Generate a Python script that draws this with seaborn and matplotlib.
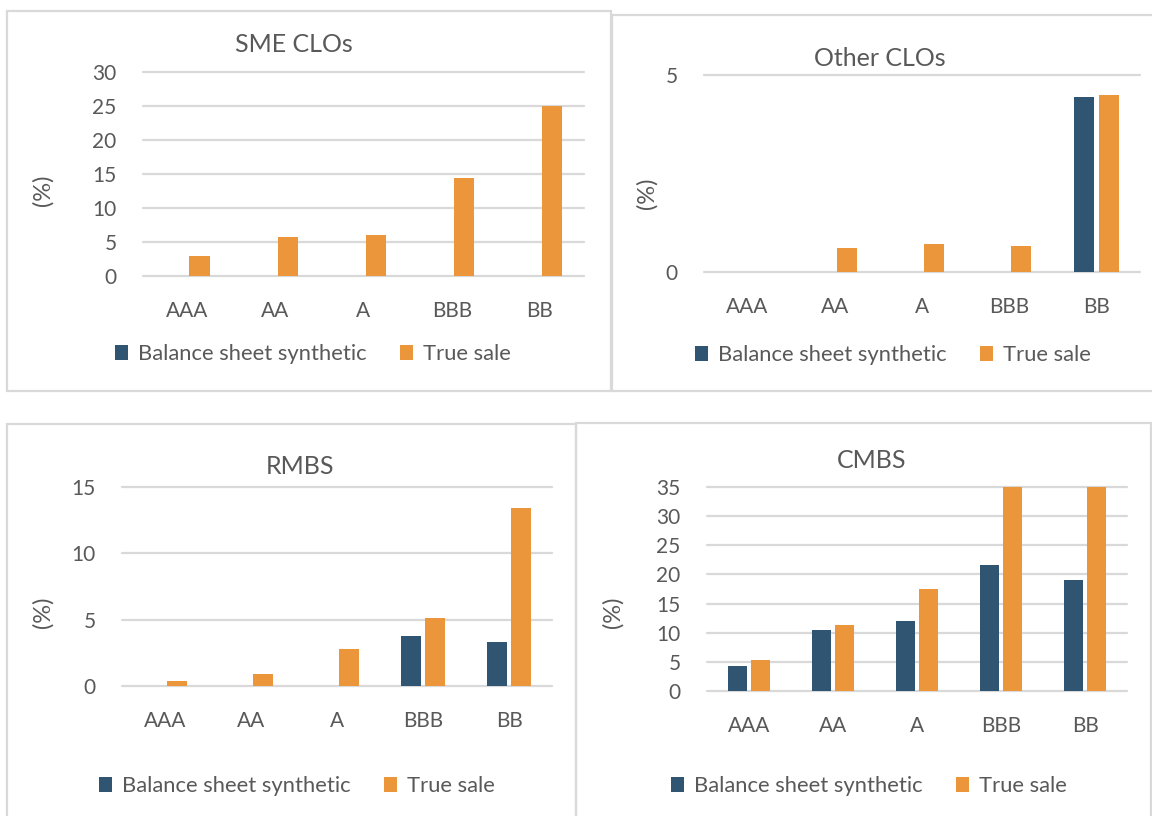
import matplotlib
matplotlib.use("Agg")
import matplotlib.pyplot as plt
from matplotlib.patches import Rectangle, Patch
import seaborn as sns
import pandas as pd

# ---------------- data ----------------
ratings = ["AAA", "AA", "A", "BBB", "BB"]
series = ["Balance sheet synthetic", "True sale"]

sme_synthetic = [0, 0, 0, 0, 0]
sme_true_sale = [2.9, 5.7, 6.0, 14.4, 25.0]

other_synthetic = [0, 0, 0, 0, 4.45]
other_true_sale = [0, 0.62, 0.72, 0.67, 4.5]

rmbs_synthetic = [0, 0, 0, 3.8, 3.3]
rmbs_true_sale = [0.4, 0.9, 2.8, 5.1, 13.4]

cmbs_synthetic = [4.3, 10.5, 12.0, 21.6, 19.0]
cmbs_true_sale = [5.4, 11.3, 17.5, 35.0, 35.0]

titles = ["SME CLOs", "Other CLOs", "RMBS", "CMBS"]
y_max = [30, 5, 15, 35]
y_step = [5, 5, 5, 5]

# ---------------- style ----------------
sns.set_theme(style="white")
plt.rcParams["font.family"] = ["Lato", "DejaVu Sans"]
TXT = "#595959"
GRID = "#D9D9D9"
BLUE = "#2F5573"
ORANGE = "#EC963C"

W, H = 1152, 816
fig = plt.figure(figsize=(W / 100, H / 100), dpi=100)


def fx(x):
    return x / W


def fy(y):
    return 1 - y / H


def add_axes_px(x0, y0, x1, y1):
    return fig.add_axes([fx(x0), fy(y1), (x1 - x0) / W, (y1 - y0) / H])


# panel borders (pixel coords: x0, y0, x1, y1)
borders = [(7, 11, 611, 391), (612, 15, 1160, 391), (7, 424, 576, 830), (576, 423, 1151, 830)]
for (x0, y0, x1, y1) in borders:
    fig.add_artist(Rectangle((fx(x0), fy(y1)), (x1 - x0) / W, (y1 - y0) / H,
                             transform=fig.transFigure, fill=False,
                             ec=GRID, lw=1.6, zorder=0))

axes_px = [(143, 72, 584, 276), (704, 75, 1140, 272), (122, 487, 552, 686), (707, 487, 1127, 691)]
title_pos = [(294, 45), (880, 58), (300, 467), (872, 461)]
ylabel_pos = [(43, 190), (647, 193), (43, 612), (613, 612)]
legend_pos = [(313, 354), (893, 355), (297, 786), (869, 786)]

data_pairs = [(sme_synthetic, sme_true_sale), (other_synthetic, other_true_sale),
              (rmbs_synthetic, rmbs_true_sale), (cmbs_synthetic, cmbs_true_sale)]

for i, (syn, ts) in enumerate(data_pairs):
    df = pd.DataFrame({
        "rating": ratings * 2,
        "type": [series[0]] * len(ratings) + [series[1]] * len(ratings),
        "value": list(syn) + list(ts),
    })
    ax = add_axes_px(*axes_px[i])
    sns.barplot(data=df, x="rating", y="value", hue="type", order=ratings,
                hue_order=series, palette=[BLUE, ORANGE], saturation=1,
                width=0.56, gap=0.18, errorbar=None, legend=False,
                linewidth=0, ax=ax)
    ax.set_ylim(0, y_max[i])
    ax.set_xlim(-0.5, len(ratings) - 0.5)
    ax.set_yticks(list(range(0, y_max[i] + 1, y_step[i])))
    ax.set_xlabel("")
    ax.set_ylabel("")
    for s in ax.spines.values():
        s.set_visible(False)
    ax.set_axisbelow(True)
    ax.yaxis.grid(True, color=GRID, lw=1.6)
    ax.xaxis.grid(False)
    for ln in ax.get_ygridlines():
        ln.set_clip_on(False)
    ax.tick_params(axis="y", length=0, pad=19, labelsize=15, labelcolor=TXT)
    ax.tick_params(axis="x", length=0, pad=18, labelsize=15, labelcolor=TXT)
    ax.set_facecolor("none")

    tx, ty = title_pos[i]
    fig.text(fx(tx), fy(ty), titles[i], ha="center", va="center", fontsize=18, color=TXT)
    lx, ly = ylabel_pos[i]
    fig.text(fx(lx), fy(ly), "(%)", ha="center", va="center", rotation=90, fontsize=17, color=TXT)

    handles = [Patch(facecolor=BLUE, edgecolor="none"), Patch(facecolor=ORANGE, edgecolor="none")]
    gx, gy = legend_pos[i]
    ax.legend(handles, series, ncol=2, loc="center", bbox_to_anchor=(fx(gx), fy(gy)),
              bbox_transform=fig.transFigure, frameon=False, fontsize=15.8,
              labelcolor=TXT, handlelength=0.62, handleheight=0.72,
              handletextpad=0.45, columnspacing=1.5, borderpad=0)

fig.savefig("out.png", dpi=100, facecolor="white")
